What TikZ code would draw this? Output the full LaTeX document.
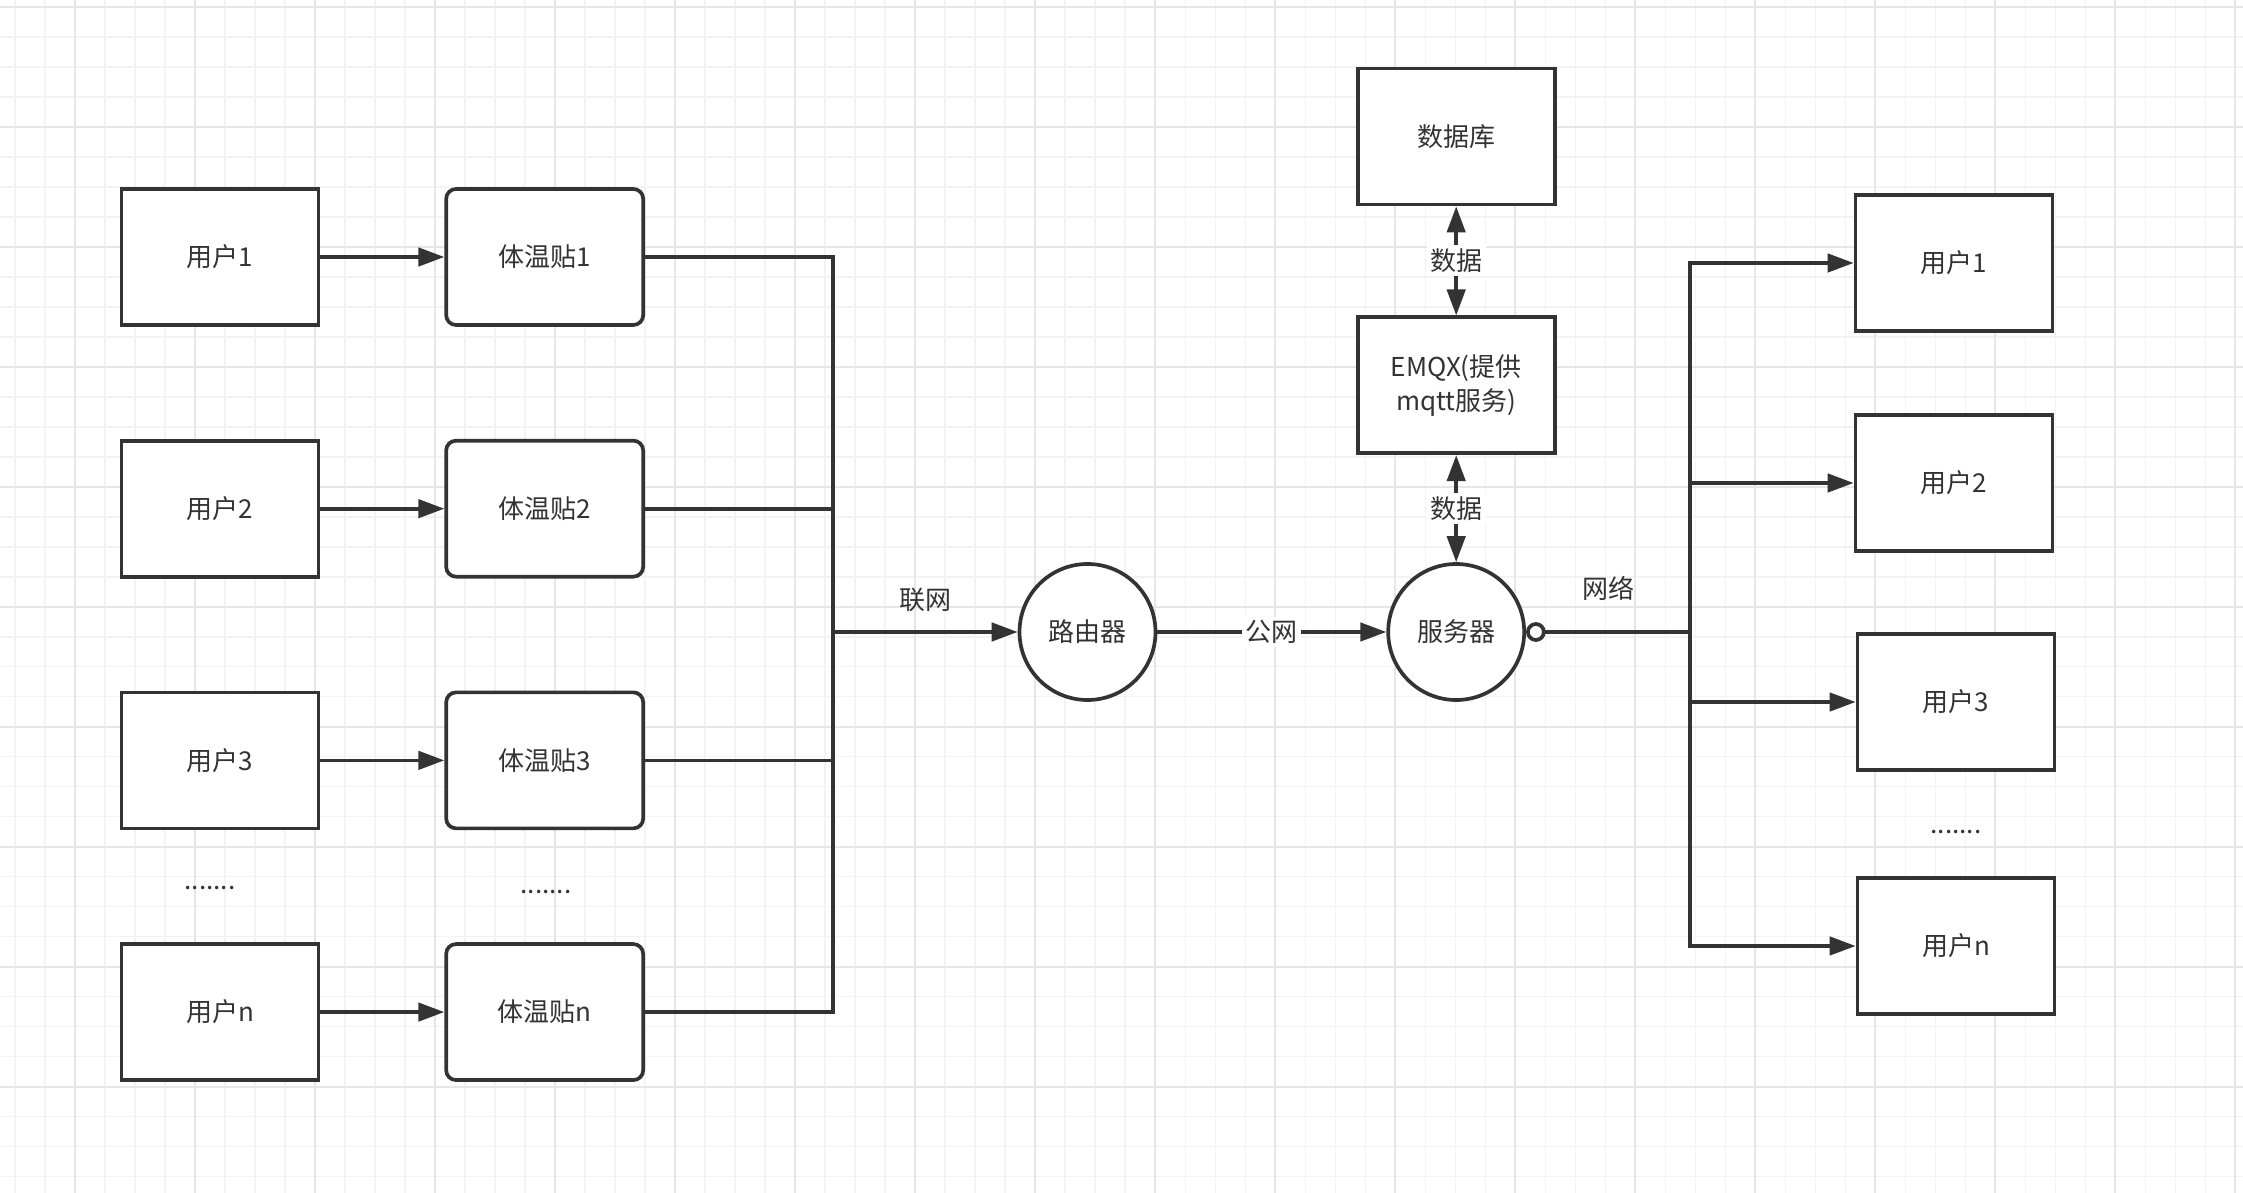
\documentclass[tikz,border=0pt]{standalone}
\usepackage{fontspec}
\setmainfont{Noto Sans CJK SC}
\usepackage{tikz}
\usetikzlibrary{arrows.meta,positioning}
\definecolor{ink}{HTML}{333333}
\definecolor{gridlo}{HTML}{F3F3F3}
\definecolor{gridhi}{HTML}{E6E6E6}

\begin{document}
\begin{tikzpicture}[
  node distance=1.12cm and 1.24cm,
  font=\fontsize{7.4}{9.7}\selectfont,
  every node/.style={text=ink},
  box/.style={draw=ink,line width=1.05pt,fill=white,minimum width=1.97cm,minimum height=1.36cm,inner sep=0pt,align=center},
  patch/.style={box,rounded corners=2.8pt},
  hub/.style={draw=ink,line width=1.05pt,fill=white,circle,minimum size=1.36cm,inner sep=0pt},
  wire/.style={draw=ink,line width=1.05pt},
  arr/.style={wire,-{Triangle[length=7.4pt,width=5.2pt]}},
  darr/.style={wire,{Triangle[length=7.4pt,width=5.2pt]}-{Triangle[length=7.4pt,width=5.2pt]}},
  tag/.style={fill=white,inner sep=1pt},
  gridmin/.style={draw=gridlo,line width=.3pt},
  gridmaj/.style={draw=gridhi,line width=.4pt}
]
% page and grid
\fill[white] (0,0) rectangle (22.43,-11.93);
\useasboundingbox (0,0) rectangle (22.43,-11.93);
\foreach \x in {0.15,0.45,...,22.43} \draw[gridmin] (\x,0) -- (\x,-11.93);
\foreach \y in {0.07,0.37,...,11.93} \draw[gridmin] (0,-\y) -- (22.43,-\y);
\foreach \x in {0.75,1.95,...,22.43} \draw[gridmaj] (\x,0) -- (\x,-11.93);
\foreach \y in {0.07,1.27,...,11.93} \draw[gridmaj] (0,-\y) -- (22.43,-\y);

% users and patches
\node[box] (u1) at (2.20,-2.57) {用户1};
\node[box,below=of u1] (u2) {用户2};
\node[box,below=of u2] (u3) {用户3};
\node[box,below=of u3] (un) {用户n};
\node[patch,right=of u1] (p1) {体温贴1};
\node[patch,right=of u2] (p2) {体温贴2};
\node[patch,right=of u3] (p3) {体温贴3};
\node[patch,right=of un] (pn) {体温贴n};
\node (dl) at (2.10,-8.88) {.......};
\node (dp) at (5.46,-8.92) {.......};

% network side
\coordinate (lbus) at (8.33,-6.32);
\node[hub] (router) at (10.875,-6.32) {路由器};
\node[hub,right=2.29cm of router] (server) {服务器};
\node[box,above=1.07cm of server] (emqx) {EMQX(提供\\mqtt服务)};
\node[box,above=1.09cm of emqx] (db) {数据库};

% receiving users
\coordinate (rbus) at (16.90,-6.32);
\node[box] (r1) at (19.54,-2.63) {用户1};
\node[box] (r2) at (19.54,-4.83) {用户2};
\node[box] (r3) at (19.56,-7.02) {用户3};
\node[box] (rn) at (19.56,-9.46) {用户n};
\node (dr) at (19.56,-8.32) {.......};

\foreach \i in {1,2,3,n} \draw[arr] (u\i) -- (p\i);
\foreach \i in {1,2,3,n} \draw[wire] (p\i.east) -| (lbus);
\draw[arr] (lbus) -- node[above=2pt]{联网} (router);
\draw[arr] (router) -- node[tag]{公网} (server);
\draw[darr] (emqx) -- node[tag]{数据} (db);
\draw[darr] (server) -- node[tag]{数据} (emqx);
\draw[wire,{Circle[fill=white,length=5.6pt]}-] (server) -- node[above=5pt]{网络} (rbus);
\foreach \i in {1,2,3,n} \draw[arr] (rbus) |- (r\i.west);
\end{tikzpicture}
\end{document}
